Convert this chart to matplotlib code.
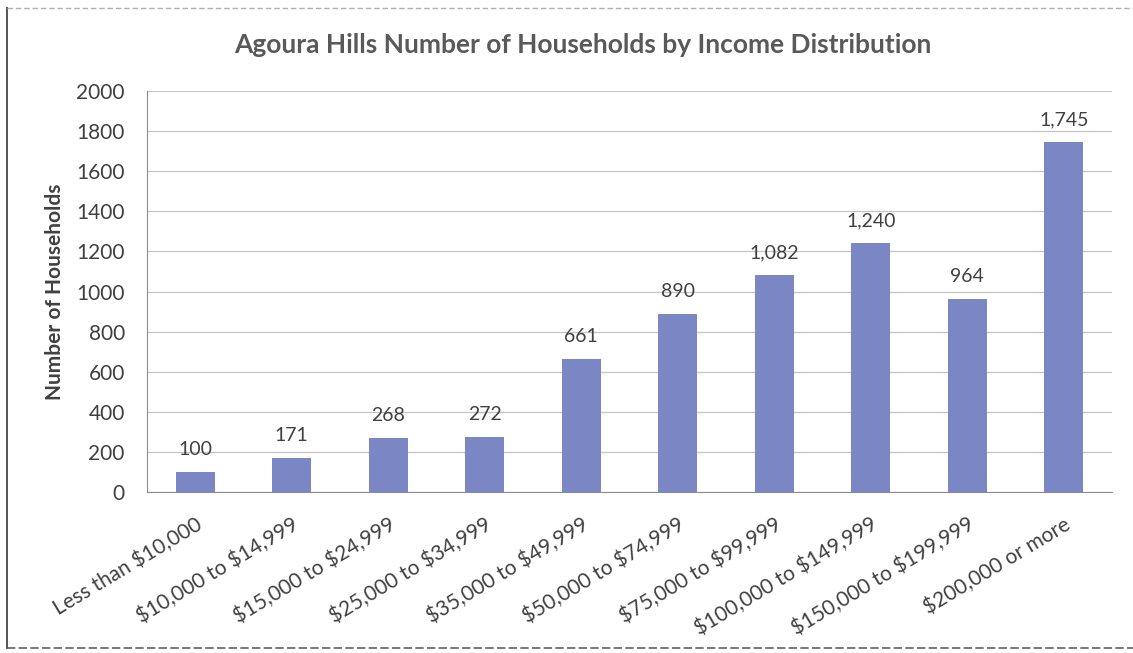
import matplotlib.pyplot as plt
from matplotlib.lines import Line2D

plt.rcParams['font.family'] = ['Lato', 'DejaVu Sans']
plt.rcParams['text.parse_math'] = False

# household counts by income bracket
brackets = [
    "Less than $10,000", "$10,000 to $14,999", "$15,000 to $24,999",
    "$25,000 to $34,999", "$35,000 to $49,999", "$50,000 to $74,999",
    "$75,000 to $99,999", "$100,000 to $149,999", "$150,000 to $199,999",
    "$200,000 or more",
]
households = [100, 171, 268, 272, 661, 890, 1082, 1240, 964, 1745]
yticks = [0, 200, 400, 600, 800, 1000, 1200, 1400, 1600, 1800, 2000]

BAR_COLOR = "#7b86c4"
TEXT_COLOR = "#404040"

fig = plt.figure(figsize=(11.33, 6.53), dpi=100)
ax = fig.add_axes([147 / 1133, 1 - 492 / 653, (1112 - 147) / 1133, (492 - 91) / 653])

x = range(len(brackets))
ax.bar(x, households, width=0.4, color=BAR_COLOR, zorder=3)

for i, v in enumerate(households):
    ax.text(i, v + 70, f"{v:,}", ha="center", va="bottom",
            fontsize=14, color=TEXT_COLOR)

ax.set_xlim(-0.5, len(brackets) - 0.5)
ax.set_ylim(0, 2000)
ax.set_yticks(yticks)
ax.set_yticklabels([str(t) for t in yticks], fontsize=15, color=TEXT_COLOR)
ax.set_xticks(list(x))
ax.set_xticklabels(brackets, rotation=31, ha="right", rotation_mode="anchor",
                   fontsize=15, color=TEXT_COLOR)
ax.tick_params(axis="y", length=0, pad=16)
ax.tick_params(axis="x", length=0, pad=16)

ax.grid(axis="y", color="#c4c4c4", linewidth=0.9, zorder=0)
for side in ("top", "right"):
    ax.spines[side].set_visible(False)
ax.spines["left"].set_color("#8c8c8c")
ax.spines["bottom"].set_color("#8c8c8c")

ax.set_ylabel("Number of Households", fontsize=15, fontweight="bold",
              color=TEXT_COLOR, labelpad=8)
fig.text(583 / 1133, 1 - 45 / 653, "Agoura Hills Number of Households by Income Distribution",
         ha="center", va="center", fontsize=19, fontweight="bold", color="#595959")

# frame edges around the chart (right edge runs off the page)
x0, x1 = 7 / 1133, 1.0
y_top, y_bot = 1 - 8 / 653, 1 - 648 / 653
fig.add_artist(Line2D([x0, x0], [y_bot, y_top], transform=fig.transFigure,
                      color="#555555", linewidth=1.4))
fig.add_artist(Line2D([x0, x1], [y_top, y_top], transform=fig.transFigure,
                      color="#b0b0b0", linewidth=1.0, linestyle=(0, (4, 2))))
fig.add_artist(Line2D([x0, x1], [y_bot, y_bot], transform=fig.transFigure,
                      color="#606060", linewidth=1.2, linestyle=(0, (5, 2))))

fig.savefig("out.png", dpi=100)
